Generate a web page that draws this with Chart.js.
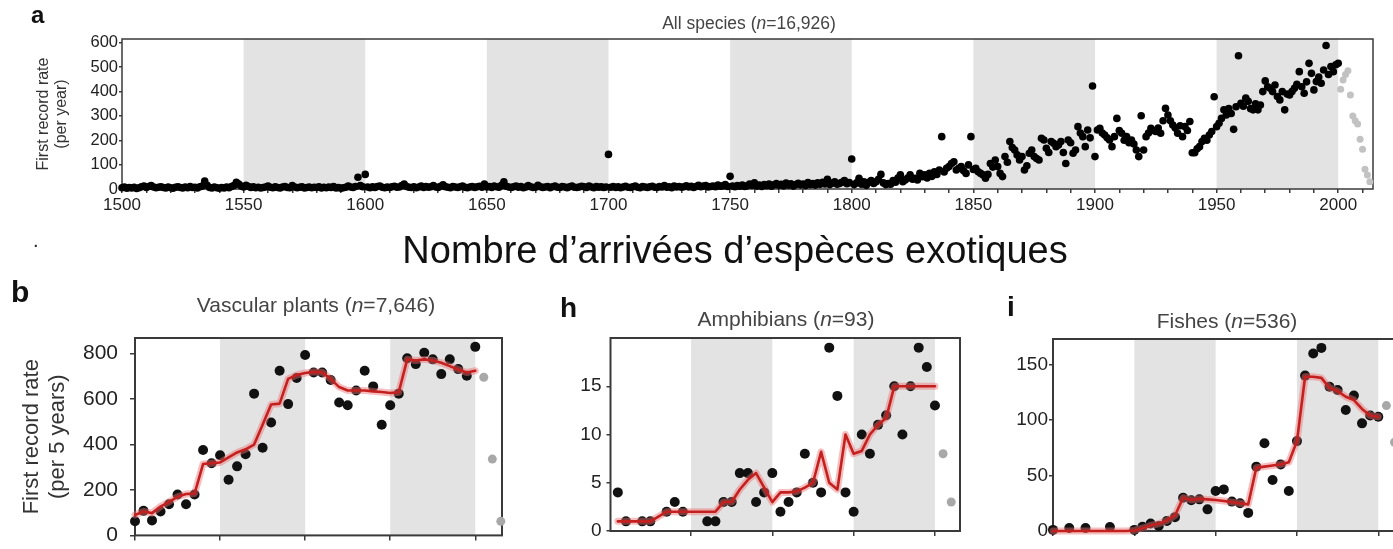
<!DOCTYPE html>
<html>
<head>
<meta charset="utf-8">
<script src="https://cdn.jsdelivr.net/npm/chart.js@4.4.0/dist/chart.umd.min.js"></script>
<style>
html, body { margin: 0; padding: 0; background: #fff; width: 1393px; height: 549px; overflow: hidden; }
body { position: relative; font-family: 'Liberation Sans', Arial, Helvetica, sans-serif; }
canvas { position: absolute; }
.t { position: absolute; white-space: nowrap; line-height: 1; color: #444; }
.c { transform: translateX(-50%); }
.lab { font-weight: bold; color: #111; }
</style>
</head>
<body>
<canvas id="cA" width="1393" height="215" style="left:0;top:0"></canvas>
<canvas id="cB" width="515" height="290" style="left:0;top:270px"></canvas>
<canvas id="cH" width="460" height="290" style="left:520px;top:270px"></canvas>
<canvas id="cI" width="440" height="290" style="left:980px;top:270px"></canvas>

<div class="t lab" style="left:31px;top:3px;font-size:24px">a</div>
<div class="t c" style="left:749px;top:15px;font-size:17.5px">All species (<i>n</i>=16,926)</div>
<div class="t" style="left:33px;top:230px;font-size:20px;color:#222">.</div>
<div class="t c" style="left:735px;top:231px;font-size:38px;color:#111">Nombre d’arrivées d’espèces exotiques</div>
<div class="t lab" style="left:11px;top:277px;font-size:30px">b</div>
<div class="t c" style="left:316px;top:294px;font-size:21px">Vascular plants (<i>n</i>=7,646)</div>
<div class="t lab" style="left:560px;top:294px;font-size:28px">h</div>
<div class="t c" style="left:786px;top:308px;font-size:21px">Amphibians (<i>n</i>=93)</div>
<div class="t lab" style="left:1007px;top:293px;font-size:28px">i</div>
<div class="t c" style="left:1227px;top:310px;font-size:21px">Fishes (<i>n</i>=536)</div>

<script>
// ---- panel a: all species, first records per year ----
const aStart = 1500;
const aBlack = [
  5, 8, 3, 6, 4, 7, 2, 5, 9, 12,
  6, 10, 14, 8, 5, 7, 9, 6, 4, 8,
  5, 3, 7, 9, 6, 4, 8, 5, 10, 6,
  7, 4, 9, 12, 33, 15, 6, 4, 8, 5,
  3, 6, 4, 8, 5, 10, 14, 28, 20, 12,
  8, 15, 10, 6, 9, 5, 7, 4, 6, 8,
  12, 7, 5, 9, 6, 4, 8, 10, 6, 5,
  14, 8, 5, 7, 9, 4, 6, 8, 5, 7,
  6, 9, 4, 7, 5, 8, 6, 10, 4, 6,
  3, 5, 7, 12, 8, 6, 10, 48, 14, 9,
  60, 8, 5, 9, 6, 10, 12, 7, 5, 8,
  6, 9, 11, 7, 8, 14, 20, 10, 7, 6,
  9, 5, 8, 12, 6, 10, 7, 9, 14, 8,
  6, 11, 17, 9, 7, 5, 10, 8, 6, 9,
  12, 7, 5, 8, 10, 6, 9, 11, 7, 20,
  8, 10, 6, 12, 9, 7, 15, 30, 11, 8,
  6, 9, 12, 7, 10, 5, 8, 14, 9, 6,
  7, 15, 9, 6, 8, 10, 5, 9, 12, 7,
  6, 10, 8, 5, 9, 12, 7, 6, 8, 11,
  9, 6, 12, 8, 5, 10, 7, 9, 6, 8,
  142, 7, 10, 6, 9, 5, 8, 11, 7, 6,
  9, 12, 7, 5, 10, 8, 6, 9, 11, 7,
  6, 10, 8, 14, 7, 9, 5, 12, 8, 10,
  7, 9, 13, 8, 11, 6, 10, 15, 9, 12,
  14, 8, 10, 12, 9, 16, 11, 13, 18, 10,
  52, 12, 9, 14, 11, 16, 10, 13, 20, 15,
  25, 12, 16, 10, 18, 14, 20, 11, 17, 22,
  15, 19, 13, 24, 16, 21, 12, 18, 23, 17,
  20, 14, 26, 18, 22, 16, 25, 19, 28, 21,
  40, 18, 24, 30, 20, 23, 28, 35, 22, 26,
  123, 18, 25, 44, 20, 30, 15, 28, 35, 23,
  30, 40, 60, 25, 18, 22, 20, 35, 28, 45,
  58, 30, 37, 45, 58, 40, 44, 37, 64, 50,
  58, 45, 64, 52, 71, 60, 78, 215, 70, 85,
  92, 105, 112, 78, 85, 92, 75, 64, 99, 215,
  80, 85, 71, 64, 58, 44, 60, 105, 90, 119,
  92, 64, 51, 133, 110, 195, 170, 160, 140, 119,
  133, 78, 95, 147, 160, 133, 125, 119, 208, 201,
  167, 150, 195, 188, 174, 181, 195, 150, 105, 201,
  190, 147, 160, 256, 230, 215, 174, 242, 210, 423,
  133, 242, 249, 230, 222, 210, 201, 174, 215, 290,
  240, 229, 200, 215, 190, 201, 185, 160, 133, 301,
  160, 215, 230, 249, 240, 236, 250, 229, 280, 331,
  304, 280, 263, 250, 229, 260, 215, 256, 240, 277,
  149, 149, 165, 174, 195, 208, 200, 222, 236, 379,
  256, 270, 290, 325, 304, 330, 310, 245, 338, 547,
  352, 340, 373, 360, 330, 325, 350, 325, 345, 400,
  444, 420, 414, 400, 427, 380, 366, 400, 325, 390,
  386, 400, 414, 430, 482, 420, 393, 440, 516, 475,
  407, 441, 460, 434, 489, 589, 470, 503, 482, 510,
  516
];
const aGrayStart = 2001;
const aGray = [410, 448, 470, 486, 386, 300, 280, 267, 204, 163, 81, 58, 30];
const aXLabels = [1500, 1550, 1600, 1650, 1700, 1750, 1800, 1850, 1900, 1950, 2000];
const aYTicks = [0, 100, 200, 300, 400, 500, 600];
const aBands = [[1550, 1600], [1650, 1700], [1750, 1800], [1850, 1900], [1950, 2000]];

// ---- bottom panels: first records per 5 years ----
const fiveStart = 1800;
const bPoints = [62, 108, 66, 105, 137, 180, 137, 180, 376, 318, 353, 245, 304, 357, 624, 386, 497, 725, 578, 693,
  794, 717, 717, 684, 585, 573, 638, 725, 656, 487, 573, 624, 780, 754, 804, 775, 710, 775, 732, 703, 830];
const bLine = [90, 105, 98, 127, 148, 170, 182, 184, 314, 318, 321, 343, 365, 379, 400, 487, 576, 580, 689, 706,
  715, 720, 718, 689, 653, 638, 638, 638, 634, 631, 627, 630, 775, 770, 775, 770, 760, 745, 730, 717, 725];
const bGray = [696, 336, 62];

const hPoints = [null, 4, 1, null, 1, 1, null, 2, 3, 2, null, null, 1, 1, 3, 3, 6, 6, 3, 4,
  6, 2, 3, 4, 8, 5, 4, 19, 14, 4, 2, 10, 8, 11, 12, 15, 10, 15, 19, 17, 13];
const hLine = [null, 1, 1, 1, 1, 1, 1.5, 2, 2, 2, 2, 2, 2, 2, 3, 3, 4.3, 5.3, 6, 4.5,
  3, 4, 4, 4.1, 4.5, 5, 8.2, 5, 4.3, 10, 8, 8.3, 10, 11, 11.7, 15, 15, 15, 15, 15, 15];
const hGray = [8, 3];

const iPoints = [1, null, 2.7, null, 2.7, null, null, 3.6, null, null, 1, 3.9, 6.7, 4.5, 9, 12.5, 30, 27.7, 28.5, 19.5,
  36, 37.5, 26.5, 25, 16.3, 58, 79, 46, 60, 36, 81, 140, 160, 165, 130, 127, 109, 122, 97, 104, 103];
const iLine = [0, 0, 0, 0, 0, 0, 0, 0, 0, 0, 0.5, 2.5, 5, 6.5, 9.5, 14, 30, 28, 29, 28.5,
  28, 27, 26, 25, 24, 57, 58, 59, 60, 62, 81, 139, 139, 138, 129, 126, 121, 118, 110, 104, 103];
const iGray = [113, 80];

const grayStart5 = 2005;
const fiveXTicks = [1800, 1850, 1900, 1950, 2000];
const fiveBands = [[1850, 1900], [1950, 2000]];
const bYTicks = [0, 200, 400, 600, 800];
const hYTicks = [0, 5, 10, 15];
const iYTicks = [0, 50, 100, 150];

const FONT = "'Liberation Sans', Arial, Helvetica, sans-serif";
const RED = '#c4201f';
const HALO = 'rgba(236,110,110,0.45)';

const bandsPlugin = {
  id: 'bands',
  beforeDatasetsDraw(chart, args, opts) {
    const { ctx, chartArea: a, scales: { x } } = chart;
    ctx.save();
    ctx.fillStyle = opts.color;
    opts.ranges.forEach(([s, e]) => {
      const x0 = Math.max(x.getPixelForValue(s), a.left);
      const x1 = Math.min(x.getPixelForValue(e), a.right);
      ctx.fillRect(x0, a.top, x1 - x0, a.bottom - a.top);
    });
    ctx.strokeStyle = opts.frame;
    ctx.lineWidth = opts.frameWidth;
    ctx.strokeRect(a.left, a.top, a.right - a.left, a.bottom - a.top);
    ctx.restore();
  }
};

function toPoints(start, step, values) {
  return values.map((v, i) => ({ x: start + i * step, y: v })).filter(p => p.y !== null);
}

function makeChart(id, cfg) {
  const canvas = document.getElementById(id);
  const W = canvas.width, H = canvas.height;
  const area = cfg.area;
  return new Chart(canvas, {
    type: 'scatter',
    data: { datasets: cfg.datasets },
    options: {
      responsive: false,
      animation: false,
      devicePixelRatio: 1,
      layout: { padding: { top: area.top, right: W - area.right, bottom: 0, left: 0 } },
      plugins: {
        legend: { display: false },
        tooltip: { enabled: false },
        bands: { ranges: cfg.bands, color: '#e3e3e3', frame: '#3a3a3a', frameWidth: cfg.frameWidth }
      },
      scales: {
        x: {
          type: 'linear', min: cfg.xMin, max: cfg.xMax,
          afterFit: s => { s.height = H - area.bottom; },
          afterBuildTicks: s => { s.ticks = cfg.xTicks.filter(v => v >= cfg.xMin && v <= cfg.xMax).map(v => ({ value: v })); },
          ticks: {
            autoSkip: false, maxRotation: 0, padding: cfg.xPad,
            callback: v => (cfg.xLabels.includes(v) ? String(v) : ''),
            font: { family: FONT, size: cfg.xFont }, color: '#222'
          },
          grid: { drawOnChartArea: false, tickLength: cfg.xTickLen, color: '#3a3a3a', lineWidth: 1.5 },
          border: { display: false }
        },
        y: {
          type: 'linear', min: cfg.yMin, max: cfg.yMax,
          afterFit: s => { s.width = area.left; },
          afterBuildTicks: s => { s.ticks = cfg.yTicks.map(v => ({ value: v })); },
          ticks: {
            autoSkip: false, padding: cfg.yPad,
            callback: v => String(v),
            font: { family: FONT, size: cfg.yFont }, color: '#222'
          },
          grid: { drawOnChartArea: false, tickLength: cfg.yTickLen, color: '#3a3a3a', lineWidth: 1.5 },
          border: { display: false },
          title: cfg.yTitle || { display: false }
        }
      }
    },
    plugins: [bandsPlugin]
  });
}

function fiveDatasets(points, line, gray) {
  return [
    { data: toPoints(fiveStart, 5, line), showLine: true, pointRadius: 0, borderColor: RED, borderWidth: 2.6,
      borderJoinStyle: 'round', borderCapStyle: 'round', clip: false },
    { data: toPoints(fiveStart, 5, line), showLine: true, pointRadius: 0, borderColor: HALO, borderWidth: 7,
      borderJoinStyle: 'round', borderCapStyle: 'round', clip: false },
    { data: toPoints(fiveStart, 5, points), pointRadius: 5, pointBackgroundColor: '#111', pointBorderWidth: 0, clip: false },
    { data: toPoints(grayStart5, 5, gray), pointRadius: 4.5, pointBackgroundColor: '#a8a8a8', pointBorderWidth: 0, clip: false }
  ];
}

const minorTicks = [];
for (let v = 1500; v <= 2010; v += 10) minorTicks.push(v);

makeChart('cA', {
  area: { left: 122, top: 39, right: 1373, bottom: 189 },
  xMin: aStart, xMax: 2014.3, yMin: 0, yMax: 616,
  xTicks: minorTicks, xLabels: aXLabels, yTicks: aYTicks, bands: aBands, frameWidth: 1.5,
  xFont: 17, yFont: 16.5, xPad: 2, yPad: 1, xTickLen: 4, yTickLen: 3,
  yTitle: { display: true, text: ['First record rate', '(per year)'], color: '#333',
    font: { family: FONT, size: 16, lineHeight: 1.15 }, padding: { top: 34, bottom: 0 } },
  datasets: [
    { data: toPoints(aStart, 1, aBlack), pointRadius: 3.8, pointBackgroundColor: '#000', pointBorderWidth: 0, clip: false },
    { data: toPoints(aGrayStart, 1, aGray), pointRadius: 3.5, pointBackgroundColor: '#c2c2c2', pointBorderWidth: 0, clip: false }
  ]
});

makeChart('cB', {
  area: { left: 135, top: 68, right: 502, bottom: 269 },
  xMin: 1800, xMax: 2015.7, yMin: 0, yMax: 869,
  xTicks: fiveXTicks, xLabels: [], yTicks: bYTicks, bands: fiveBands, frameWidth: 2,
  xFont: 20, yFont: 21, xPad: 2, yPad: 12, xTickLen: 5, yTickLen: 5,
  yTitle: { display: true, text: ['First record rate', '(per 5 years)'], color: '#333',
    font: { family: FONT, size: 22, lineHeight: 1.18 }, padding: { top: 19, bottom: 0 } },
  datasets: fiveDatasets(bPoints, bLine, bGray)
});

makeChart('cH', {
  area: { left: 90.5, top: 68, right: 440, bottom: 261 },
  xMin: 1800.5, xMax: 2015.4, yMin: 0, yMax: 20,
  xTicks: fiveXTicks, xLabels: [], yTicks: hYTicks, bands: fiveBands, frameWidth: 2,
  xFont: 18, yFont: 19, xPad: 2, yPad: 5, xTickLen: 5, yTickLen: 4,
  datasets: fiveDatasets(hPoints, hLine, hGray)
});

makeChart('cI', {
  area: { left: 73, top: 69, right: 423.5, bottom: 261 },
  xMin: 1800, xMax: 2015.5, yMin: 0, yMax: 173,
  xTicks: fiveXTicks, xLabels: [], yTicks: iYTicks, bands: fiveBands, frameWidth: 2,
  xFont: 18, yFont: 19, xPad: 2, yPad: 1, xTickLen: 5, yTickLen: 4,
  datasets: fiveDatasets(iPoints, iLine, iGray)
});
</script>
</body>
</html>
